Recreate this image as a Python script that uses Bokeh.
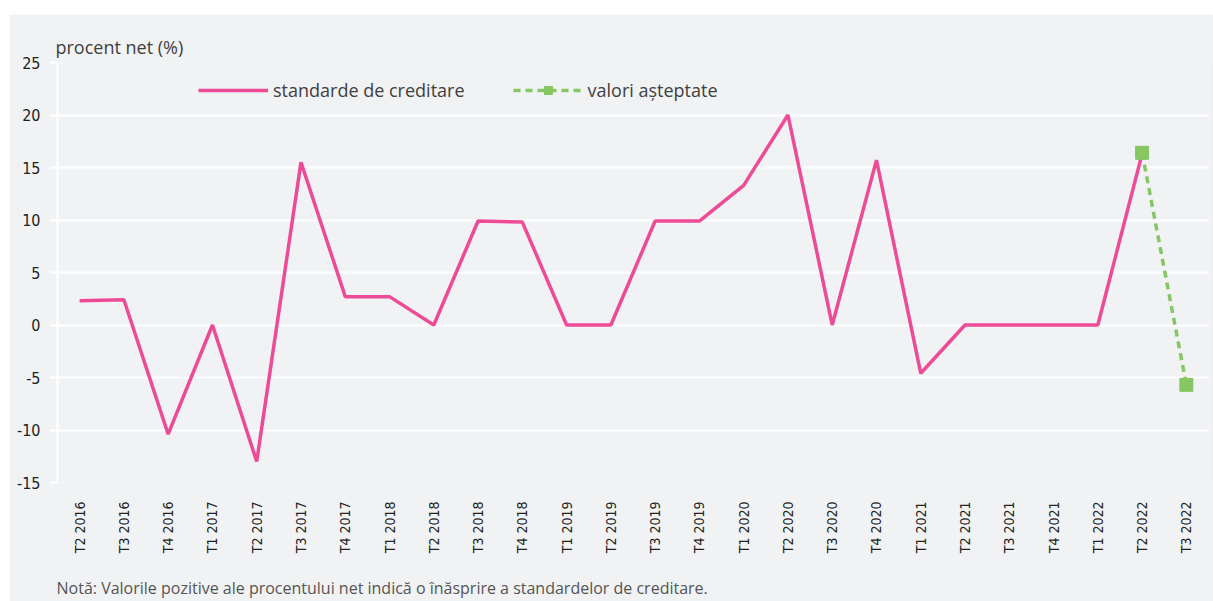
import math
from bokeh.plotting import figure
from bokeh.models import Legend, LegendItem, Title, FixedTicker, Spacer
from bokeh.layouts import column, row
from bokeh.embed import file_html
from bokeh.resources import INLINE

categories = ["T2 2016", "T3 2016", "T4 2016", "T1 2017", "T2 2017", "T3 2017",
              "T4 2017", "T1 2018", "T2 2018", "T3 2018", "T4 2018", "T1 2019",
              "T2 2019", "T3 2019", "T4 2019", "T1 2020", "T2 2020", "T3 2020",
              "T4 2020", "T1 2021", "T2 2021", "T3 2021", "T4 2021", "T1 2022",
              "T2 2022", "T3 2022"]
standarde = [2.3, 2.4, -10.4, 0.0, -13.0, 15.5, 2.7, 2.7, 0.0, 9.9, 9.8, 0.0,
             0.0, 9.9, 9.9, 13.3, 20.0, 0.0, 15.7, -4.6, 0.0, 0.0, 0.0, 0.0,
             16.3]
asteptate_x = ["T2 2022", "T3 2022"]
asteptate = [16.4, -5.7]
y_ticks = [-15, -10, -5, 0, 5, 10, 15, 20, 25]
y_tick_labels = ["-15", "-10", "-5", "0", "5", "10", "15", "20", "25"]

BG = "#f1f2f4"
PINK = "#ee4b97"
GREEN = "#86c663"
FONT = "Open Sans"
NARROW = "DejaVu Sans Condensed"

p = figure(x_range=categories, y_range=(-15, 25), width=1204, height=587,
           output_backend="svg", toolbar_location=None,
           background_fill_color=BG, border_fill_color=BG,
           min_border_left=48, min_border_right=5, min_border_top=48,
           min_border_bottom=119)
p.outline_line_color = None

r1 = p.line(categories[:len(standarde)], standarde, line_color=PINK, line_width=3.5)
r2 = p.line(asteptate_x, asteptate, line_color=GREEN, line_width=3.5, line_dash="7 5")
r3 = p.scatter(asteptate_x, asteptate, marker="square", size=13,
               fill_color=GREEN, line_color=GREEN)

p.xgrid.grid_line_color = None
p.ygrid.grid_line_color = "white"
p.ygrid.grid_line_width = 2
p.yaxis.ticker = FixedTicker(ticks=y_ticks)
p.yaxis.major_label_overrides = {t: s for t, s in zip(y_ticks, y_tick_labels)}
p.yaxis.axis_line_color = "white"
p.yaxis.axis_line_width = 2
p.yaxis.major_tick_line_color = "white"
p.yaxis.major_tick_line_width = 2
p.yaxis.major_tick_out = 7
p.yaxis.major_tick_in = 0
p.yaxis.minor_tick_line_color = None
p.yaxis.major_label_standoff = 10
p.yaxis.major_label_text_font = NARROW
p.yaxis.major_label_text_font_size = "16px"
p.yaxis.major_label_text_color = "#222222"

p.xaxis.axis_line_color = None
p.xaxis.major_tick_line_color = None
p.xaxis.minor_tick_line_color = None
p.xaxis.major_label_orientation = math.pi / 2
p.xaxis.major_label_standoff = 13
p.xaxis.major_label_text_font = NARROW
p.xaxis.major_label_text_font_size = "14px"
p.xaxis.major_label_text_color = "#222222"
# invisible spacer label pushing the note further down
p.xaxis.axis_label = " "
p.xaxis.axis_label_text_font_size = "1px"
p.xaxis.axis_label_standoff = 11

p.title.text = "procent net (%)"
p.title.text_font = FONT
p.title.text_font_size = "18px"
p.title.text_font_style = "normal"
p.title.text_color = "#404040"
p.title.align = "left"
p.title.offset = -2
p.title.standoff = 8

legend = Legend(items=[LegendItem(label="standarde de creditare", renderers=[r1]),
                       LegendItem(label="valori așteptate", renderers=[r2, r3])],
                orientation="horizontal", location=(141, 380),
                glyph_width=70, glyph_height=20, label_standoff=5, spacing=48,
                padding=0, margin=0, border_line_color=None,
                background_fill_alpha=0,
                label_text_font=FONT, label_text_font_size="18px",
                label_text_color="#404040")
p.add_layout(legend, "center")

note = Title(text="Notă: Valorile pozitive ale procentului net indică o înăsprire a standardelor de creditare.",
             align="left", offset=-1, standoff=6, text_font=FONT,
             text_font_size="16px", text_font_style="normal", text_color="#555555")
p.add_layout(note, "below")

layout = column(Spacer(width=1213, height=14),
                row(Spacer(width=9, height=587), p, spacing=0), spacing=0)
open("out.html", "w").write(file_html(layout, INLINE))
